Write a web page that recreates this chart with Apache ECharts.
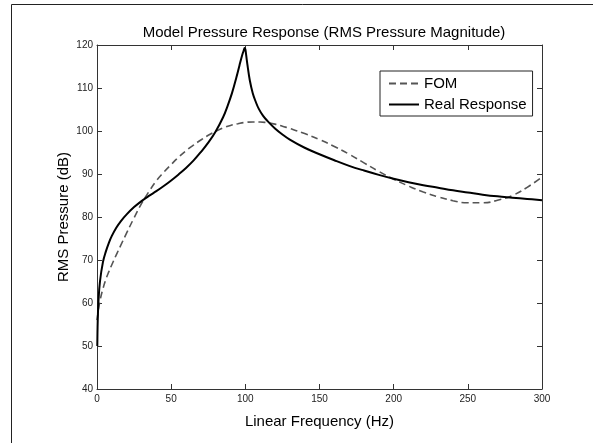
<!DOCTYPE html>
<html>
<head>
<meta charset="utf-8">
<script src="https://cdn.jsdelivr.net/npm/echarts@6/dist/echarts.min.js"></script>
<style>
  html, body { margin: 0; padding: 0; background: #fff; }
  #chart { width: 593px; height: 443px; }
</style>
</head>
<body>
<div id="chart"></div>
<script>
// readings
const realFreq = [0.2, 0.5, 1, 2, 4, 6, 8, 10, 13, 16, 20, 25, 30, 35, 40, 45, 50, 55, 60, 65, 70, 75, 80, 85, 88, 91, 94, 96, 98, 99, 99.5, 100, 100.5, 101.5, 103, 105, 107, 109, 112, 115, 120, 125, 130, 140, 150, 160, 170, 180, 190, 200, 210, 220, 230, 240, 250, 260, 270, 280, 290, 300];
const realDb = [50, 56, 60.5, 65, 69.5, 72, 74, 75.6, 77.5, 79, 80.6, 82.3, 83.7, 84.9, 86, 87.2, 88.5, 89.9, 91.4, 93.1, 95.1, 97.3, 99.9, 103.2, 105.8, 108.8, 112.5, 115.2, 117.8, 118.8, 119.3, 119, 117.8, 115.2, 111.8, 108.8, 106.8, 105.2, 103.5, 102.3, 100.6, 99.2, 98, 96.1, 94.6, 93.2, 91.9, 90.8, 89.8, 88.9, 88.1, 87.4, 86.8, 86.2, 85.7, 85.2, 84.8, 84.5, 84.2, 83.9];

const fomFreq = [0, 1, 2, 4, 6, 8, 10, 13, 16, 20, 25, 30, 35, 40, 45, 50, 55, 60, 65, 70, 75, 80, 85, 90, 95, 100, 105, 110, 115, 120, 125, 130, 140, 150, 160, 170, 180, 190, 200, 210, 220, 230, 240, 250, 260, 270, 280, 290, 300];
const fomDb = [56, 58.5, 60.5, 63.3, 65.5, 67.3, 68.9, 71.2, 73.4, 76.3, 79.8, 83.1, 85.9, 88.4, 90.4, 92.2, 93.9, 95.4, 96.7, 97.9, 99, 99.9, 100.7, 101.3, 101.7, 102, 102.1, 102.1, 101.9, 101.6, 101.1, 100.6, 99.4, 98, 96.4, 94.6, 92.6, 90.6, 88.8, 87.2, 85.8, 84.7, 83.8, 83.3, 83.3, 83.9, 85, 86.9, 89.3];

const xTicks = { min: 0, max: 300, interval: 50 };
const yTicks = { min: 40, max: 120, interval: 10 };

const titleText = 'Model Pressure Response (RMS Pressure Magnitude)';
const xName = 'Linear Frequency (Hz)';
const yName = 'RMS Pressure (dB)';
const seriesNames = ['FOM', 'Real Response'];

const font = 'Liberation Sans, Arial, Helvetica, sans-serif';
const axisColor = '#333';

function pairs(xs, ys) {
  return xs.map((x, i) => [x, ys[i]]);
}

function boxAxis(pos, ticks, showLabels, extra) {
  return Object.assign({
    type: 'value',
    position: pos,
    min: ticks.min,
    max: ticks.max,
    interval: ticks.interval,
    splitLine: { show: false },
    axisLine: { show: true, onZero: false, lineStyle: { color: axisColor, width: 1 } },
    axisTick: { show: true, inside: true, length: 5, lineStyle: { color: axisColor } },
    axisLabel: {
      show: showLabels,
      color: '#222',
      fontSize: 10,
      fontFamily: font
    }
  }, extra || {});
}

const chart = echarts.init(document.getElementById('chart'), null, { renderer: 'canvas' });

chart.setOption({
  backgroundColor: '#fff',
  animation: false,
  title: {
    text: titleText,
    left: 319,
    top: 20,
    textAlign: 'center',
    textStyle: { fontFamily: font, fontSize: 15, fontWeight: 'normal', color: '#000' }
  },
  grid: { left: 97, right: 51, top: 45, bottom: 54, containLabel: false },
  legend: {
    orient: 'vertical',
    left: 380,
    top: 71,
    align: 'left',
    backgroundColor: '#fff',
    borderColor: '#222',
    borderWidth: 1,
    borderRadius: 0,
    padding: [5, 6, 4, 8],
    itemWidth: 30,
    itemHeight: 14,
    itemGap: 6,
    itemStyle: { color: 'transparent', borderWidth: 0, opacity: 0 },
    textStyle: { fontFamily: font, fontSize: 15, color: '#000' },
    data: seriesNames
  },
  xAxis: [
    boxAxis('bottom', xTicks, true, {
      name: xName,
      nameLocation: 'middle',
      nameGap: 25,
      nameTextStyle: { fontFamily: font, fontSize: 15, color: '#000' },
      axisLabel: { show: true, color: '#222', fontSize: 10, fontFamily: font, margin: 5 }
    }),
    boxAxis('top', xTicks, false)
  ],
  yAxis: [
    boxAxis('left', yTicks, true, {
      name: yName,
      nameLocation: 'middle',
      nameGap: 26,
      nameMoveOverlap: false,
      nameTextStyle: { fontFamily: font, fontSize: 15, color: '#000' },
      axisLabel: { show: true, color: '#222', fontSize: 10, fontFamily: font, margin: 4 }
    }),
    boxAxis('right', yTicks, false)
  ],
  series: [
    {
      name: seriesNames[0],
      type: 'line',
      xAxisIndex: 0,
      yAxisIndex: 0,
      data: pairs(fomFreq, fomDb),
      symbol: 'none',
      smooth: 0.5,
      lineStyle: { color: '#555', width: 1.6, type: [7, 4] },
      itemStyle: { color: '#555' },
      z: 2
    },
    {
      name: seriesNames[1],
      type: 'line',
      xAxisIndex: 0,
      yAxisIndex: 0,
      data: pairs(realFreq, realDb),
      symbol: 'none',
      smooth: 0.4,
      lineStyle: { color: '#000', width: 2 },
      itemStyle: { color: '#000' },
      z: 3
    }
  ],
  graphic: [
    { type: 'line', shape: { x1: 11.5, y1: 4.5, x2: 593, y2: 4.5 }, style: { stroke: '#222', lineWidth: 1 } },
    { type: 'line', shape: { x1: 11.5, y1: 4.5, x2: 11.5, y2: 443 }, style: { stroke: '#222', lineWidth: 1 } }
  ]
});
</script>
</body>
</html>
